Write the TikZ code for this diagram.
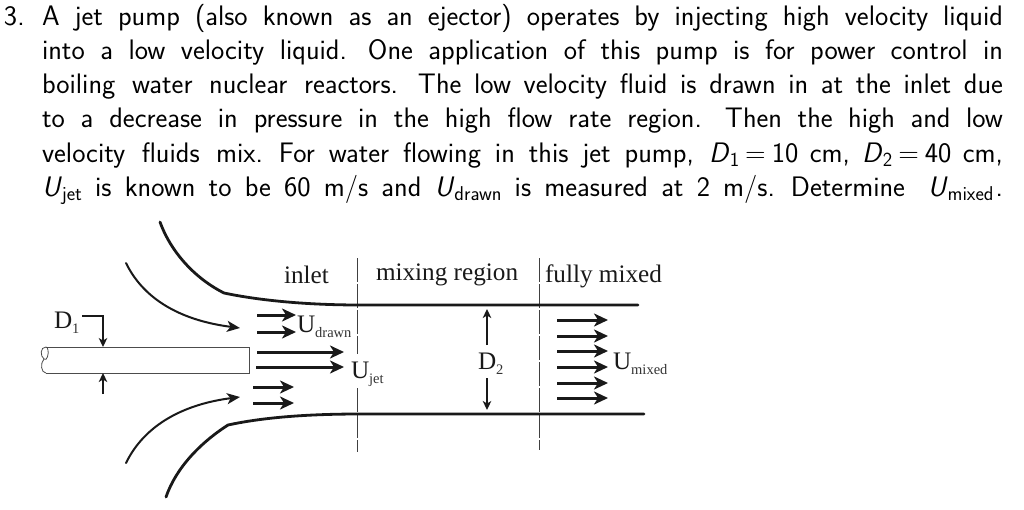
\documentclass[tikz,border=0pt]{standalone}
\usepackage{fontspec}
\setmainfont{Liberation Serif}
\setsansfont{Latin Modern Sans}
\usetikzlibrary{arrows.meta}
\newfontfamily\lmss{Latin Modern Sans}
\newcommand{\bodysub}[1]{\raisebox{-4.5pt}{\fontsize{20}{20}\selectfont #1}}
\newcommand{\lblsub}[1]{\raisebox{-5.5pt}{\fontsize{14.5}{14.5}\selectfont\color{labelsub} #1}}
\newcommand{\eqs}{\kern6pt=\kern6pt}
\newcommand{\seg}[2]{\hbox to #1pt{#2}}
\definecolor{labelsub}{HTML}{333333}
\tikzset{
  x=1pt,y=-1pt,
  bodyline/.style={anchor=base west,inner sep=0pt,outer sep=0pt,font=\lmss\fontsize{28.2}{28.2}\selectfont},
  lbl/.style={anchor=base west,inner sep=0pt,outer sep=0pt,font=\fontsize{25.2}{25.2}\selectfont,text=black!90},
  wall/.style={line width=2.8pt,line cap=round,black!90},
  flow/.style={line width=2pt,line cap=round,black!90,-{Stealth[length=13pt,width=11pt,inset=3.5pt]}},
  arr/.style={line width=3pt,black!90,-{Stealth[length=14pt,width=13pt,inset=4pt]}},
  dim/.style={line width=1.3pt,black!90,-{Stealth[length=9pt,width=8.5pt,inset=2.5pt]}},
  divider/.style={line width=0.7pt,black!75,dash pattern=on 24pt off 2pt},
  pipe/.style={line width=0.8pt,black!70},
}
\begin{document}
\begin{tikzpicture}
\useasboundingbox (0,0) rectangle (1024,509);
% problem text
\node[bodyline] (num) at (4,25) {3.};
\node[bodyline] (t1) at (42,25) {\seg{961}{A jet pump (also known as an ejector) operates by injecting high velocity liquid}};
\node[bodyline] (t2) at (42,59) {\seg{305}{into a low velocity liquid.}\hskip21pt\seg{635}{One application of this pump is for power control in}};
\node[bodyline] (t3) at (42,93.5) {\seg{356}{boiling water nuclear reactors.}\hskip20pt\seg{585}{The low velocity fluid is drawn in at the inlet due}};
\node[bodyline] (t4) at (42,127.5) {\seg{660}{to a decrease in pressure in the high flow rate region.}\hskip23pt\seg{278}{Then the high and low}};
\node[bodyline] (t5) at (42,162) {\seg{221}{velocity fluids mix.}\hskip16pt\seg{415}{For water flowing in this jet pump,}\hskip15pt\seg{294}{\textsl{D}\bodysub{1}\eqs 10 cm, \textsl{D}\bodysub{2}\eqs 40 cm,}};
\node[bodyline] (t6) at (42,196) {\seg{733}{\textsl{U}\bodysub{jet} is known to be 60 m/s and \textsl{U}\bodysub{drawn} is measured at 2 m/s.}\hskip16pt\seg{212}{Determine \textsl{U}\bodysub{mixed}\kern2pt.}};
% dividers
\coordinate (d1a) at (357,258); \coordinate (d1m) at (357,354); \coordinate (d1n) at (357,388); \coordinate (d1b) at (357,452);
\coordinate (d2a) at (539,258); \coordinate (d2b) at (539,450);
\draw[divider] (d1a) -- (d1m);
\draw[divider] (d1n) -- (d1b);
\draw[divider] (d2a) -- (d2b);
% walls
\coordinate (ua) at (160,222); \coordinate (ub) at (224,293); \coordinate (uc) at (638,305);
\draw[wall] (ua) .. controls (172,255) and (198,280) .. (ub) .. controls (262,301) and (310,305) .. (360,305) -- (uc);
\coordinate (la) at (166,497); \coordinate (lb) at (228,425); \coordinate (lc) at (644,414);
\draw[wall] (la) .. controls (176,468) and (200,443) .. (lb) .. controls (265,417) and (310,414) .. (360,414) -- (lc);
% incoming stream lines
\coordinate (fua) at (126,263); \coordinate (fub) at (240,328);
\draw[flow] (fua) .. controls (145,302) and (185,321) .. (fub);
\coordinate (fla) at (126,463); \coordinate (flb) at (240,397);
\draw[flow] (fla) .. controls (145,424) and (185,404) .. (flb);
% pipe
\coordinate (p1) at (46,347); \coordinate (p2) at (249,347); \coordinate (p3) at (249,373); \coordinate (p4) at (46,373);
\draw[pipe] (p4) -- (p3) -- (p2) -- (p1);
\draw[pipe] (p1) .. controls (40,347) and (40,356) .. (44,359) .. controls (47,362) and (49,353) .. (48,350) .. controls (47.5,348) and (47,347) .. (p1);
\draw[pipe] (44,359) .. controls (40,363) and (41,373) .. (p4);
% D1
\node[lbl] (D1) at (54,328) {D\lblsub{1}};
\coordinate (k1) at (82,316); \coordinate (k2) at (103,316); \coordinate (k3) at (103,347);
\draw[dim] (k1) -- (k2) -- (k3);
\coordinate (k4) at (103,394); \coordinate (k5) at (103,373);
\draw[dim] (k4) -- (k5);
% flow arrows
\coordinate (a1) at (257,315); \coordinate (a1e) at (296,315);
\coordinate (a2) at (257,332); \coordinate (a2e) at (296,332);
\coordinate (a3) at (257,352); \coordinate (a3e) at (344,352);
\coordinate (a4) at (256,367); \coordinate (a4e) at (344,367);
\coordinate (a5) at (253,387); \coordinate (a5e) at (294,387);
\coordinate (a6) at (253,403); \coordinate (a6e) at (294,403);
\draw[arr] (a1) -- (a1e);
\draw[arr] (a2) -- (a2e);
\draw[arr] (a3) -- (a3e);
\draw[arr] (a4) -- (a4e);
\draw[arr] (a5) -- (a5e);
\draw[arr] (a6) -- (a6e);
\coordinate (m1) at (557,320); \coordinate (m1e) at (608,320);
\coordinate (m2) at (557,336); \coordinate (m2e) at (608,336);
\coordinate (m3) at (557,351); \coordinate (m3e) at (608,351);
\coordinate (m4) at (557,367); \coordinate (m4e) at (608,367);
\coordinate (m5) at (557,383); \coordinate (m5e) at (608,383);
\coordinate (m6) at (557,398); \coordinate (m6e) at (608,398);
\draw[arr] (m1) -- (m1e);
\draw[arr] (m2) -- (m2e);
\draw[arr] (m3) -- (m3e);
\draw[arr] (m4) -- (m4e);
\draw[arr] (m5) -- (m5e);
\draw[arr] (m6) -- (m6e);
% D2
\coordinate (e1) at (487,345); \coordinate (e1e) at (487,309);
\coordinate (e2) at (487,378); \coordinate (e2e) at (487,410);
\draw[dim] (e1) -- (e1e);
\draw[dim] (e2) -- (e2e);
% labels
\node[lbl] (inlet) at (284,283) {inlet};
\node[lbl] (mix) at (376,280) {mixing region};
\node[lbl] (full) at (545,282) {fully mixed};
\node[lbl] (Ud) at (297,332) {U\lblsub{drawn}};
\node[lbl] (Uj) at (351,378) {U\lblsub{jet}};
\node[lbl] (D2) at (478,369) {D\lblsub{2}};
\node[lbl] (Um) at (613,369) {U\lblsub{mixed}};
\end{tikzpicture}
\end{document}
